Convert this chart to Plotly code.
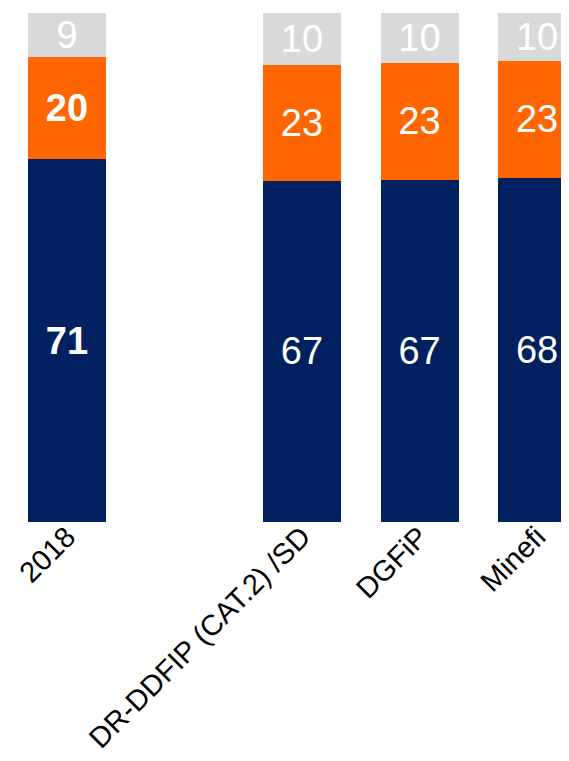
import plotly.graph_objects as go

# --- Data ---
categories = ["2018", " ", "DR-DDFIP (CAT.2) /SD", "DGFiP", "Minefi"]
navy_values = [71.3, None, 67.0, 67.2, 67.6]
orange_values = [20.0, None, 22.8, 23.0, 23.0]
grey_values = [8.7, None, 10.2, 9.8, 9.4]
navy_labels = ["71", "", "67", "67", "68"]
orange_labels = ["20", "", "23", "23", "23"]
grey_labels = ["9", "", "10", "10", "10"]

# 2018 column is drawn heavier in the original
bold_2018 = ["bold", "normal", "normal", "normal", "normal"]

FONT = "Liberation Sans, Arial, sans-serif"

fig = go.Figure()

series = [
    (navy_values, navy_labels, "#002060", bold_2018),
    (orange_values, orange_labels, "#FF6600", bold_2018),
    (grey_values, grey_labels, "#D9D9D9", "normal"),
]
for vals, labels, color, weight in series:
    fig.add_trace(go.Bar(
        x=categories, y=vals, text=labels,
        marker=dict(color=color, line=dict(width=0)),
        textposition="inside", insidetextanchor="middle",
        textangle=0, constraintext="none",
        textfont=dict(family=FONT, size=38, color="white", weight=weight),
        showlegend=False, hoverinfo="skip",
    ))

fig.update_xaxes(
    type="category", range=[-0.502, 4.272],
    tickangle=-45, tickfont=dict(family=FONT, size=29, color="black"),
    ticklabelstandoff=-9,
    showgrid=False, zeroline=False, showline=False, ticks="",
)
fig.update_yaxes(range=[0, 100], visible=False, showgrid=False)

# page body adds an 8px margin, so the figure is sized to compensate
fig.update_layout(
    barmode="stack", bargap=0.336,
    width=561, height=753,
    margin=dict(l=0, r=0, t=5, b=239, autoexpand=False),
    plot_bgcolor="white", paper_bgcolor="white",
)

fig.write_html("out.html")
